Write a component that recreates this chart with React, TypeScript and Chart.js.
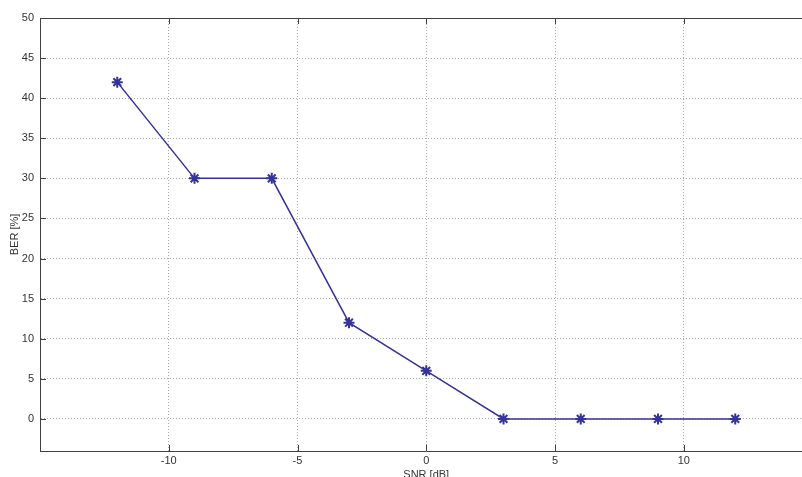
import React, { useEffect, useRef } from "react";
import { Chart, registerables } from "chart.js";

Chart.register(...registerables);

const snrDb = [-12, -9, -6, -3, 0, 3, 6, 9, 12];
const berPercent = [42, 30, 30, 12, 6, 0, 0, 0, 0];
const xTickValues = [-10, -5, 0, 5, 10];
const yTickValues = [0, 5, 10, 15, 20, 25, 30, 35, 40, 45, 50];
const xLabel = "SNR [dB]";
const yLabel = "BER [%]";

const FONT = "'Liberation Sans', Arial, sans-serif";
const AXIS_COLOR = "#404040";
const LINE_COLOR = "#333399";
const GRID_COLOR = "#a8a8a8";

const boxPlugin = {
  id: "matlabBox",
  afterDraw(chart: any) {
    const { ctx, chartArea: a, scales } = chart;
    ctx.save();
    ctx.strokeStyle = AXIS_COLOR;
    ctx.lineWidth = 1;
    ctx.beginPath();
    ctx.moveTo(a.left, Math.round(a.top) + 0.5);
    ctx.lineTo(a.right, Math.round(a.top) + 0.5);
    for (const v of xTickValues) {
      const px = Math.round(scales.x.getPixelForValue(v)) + 0.5;
      ctx.moveTo(px, a.bottom);
      ctx.lineTo(px, a.bottom - 6);
      ctx.moveTo(px, a.top);
      ctx.lineTo(px, a.top + 6);
    }
    for (const v of yTickValues) {
      const py = Math.round(scales.y.getPixelForValue(v)) + 0.5;
      ctx.moveTo(a.left, py);
      ctx.lineTo(a.left + 6, py);
    }
    ctx.stroke();
    ctx.restore();
  },
};

export default function App() {
  const ref = useRef<HTMLCanvasElement>(null);
  useEffect(() => {
    if (!ref.current) return;
    const chart = new Chart(ref.current, {
      type: "scatter",
      data: {
        datasets: [
          {
            data: snrDb.map((x, i) => ({ x, y: berPercent[i] })),
            showLine: true,
            borderColor: LINE_COLOR,
            backgroundColor: LINE_COLOR,
            borderWidth: 1.5,
            pointStyle: "star",
            pointRadius: 5.5,
            pointBorderWidth: 2,
            pointBorderColor: LINE_COLOR,
          },
        ],
      },
      options: {
        responsive: false,
        animation: false,
        devicePixelRatio: 1,
        layout: { padding: { left: 0, top: 18, right: 7, bottom: 0 } },
        plugins: { legend: { display: false }, tooltip: { enabled: false } },
        scales: {
          x: {
            type: "linear",
            min: -15,
            max: 15,
            afterBuildTicks: (s: any) => {
              s.ticks = xTickValues.map((v) => ({ value: v }));
            },
            afterFit: (s: any) => {
              s.height = 26;
            },
            ticks: { color: "#333", font: { family: FONT, size: 11 }, padding: 3 },
            grid: { color: GRID_COLOR, drawTicks: false, lineWidth: 1 },
            border: { display: true, color: AXIS_COLOR, dash: [1, 2] },
            title: {
              display: true,
              text: xLabel,
              color: "#333",
              font: { family: FONT, size: 11 },
              padding: { top: 0, bottom: -5 },
            },
          },
          y: {
            type: "linear",
            min: -4,
            max: 50,
            afterBuildTicks: (s: any) => {
              s.ticks = yTickValues.map((v) => ({ value: v }));
            },
            afterFit: (s: any) => {
              s.width = 40;
            },
            ticks: { color: "#333", font: { family: FONT, size: 11 }, padding: 6 },
            grid: { color: GRID_COLOR, drawTicks: false, lineWidth: 1 },
            border: { display: true, color: AXIS_COLOR, dash: [1, 2] },
            title: {
              display: true,
              text: yLabel,
              color: "#333",
              font: { family: FONT, size: 11 },
              padding: { top: 8, bottom: 0 },
            },
          },
        },
      },
      plugins: [boxPlugin],
    } as any);
    return () => chart.destroy();
  }, []);
  return (
    <div
      style={{
        position: "absolute",
        left: 0,
        top: 0,
        width: 802,
        height: 477,
        overflow: "hidden",
        background: "#fff",
      }}
    >
      <canvas ref={ref} width={820} height={477} style={{ display: "block", width: 820, height: 477 }} />
    </div>
  );
}
